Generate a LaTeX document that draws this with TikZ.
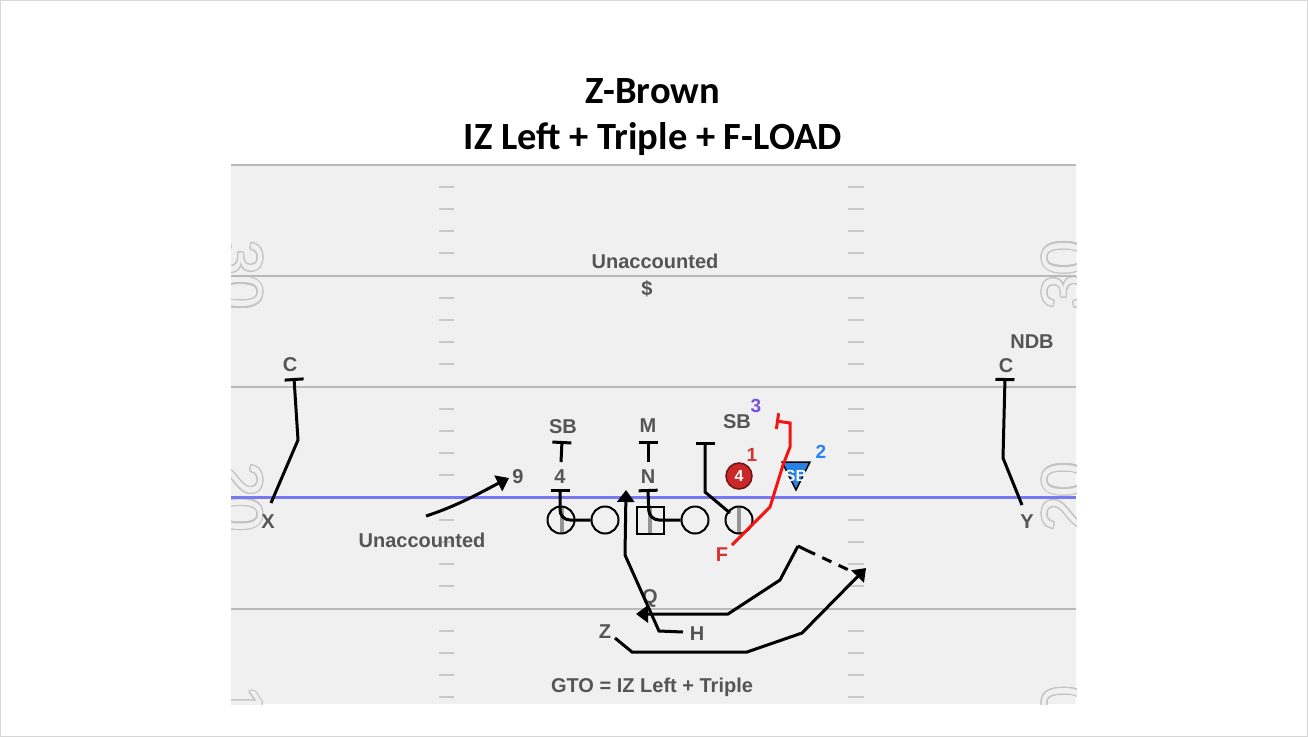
\documentclass[tikz,border=0pt]{standalone}
\usepackage{fontspec}
\setmainfont{Liberation Sans}
\newfontfamily\titlefont{Carlito}
\usepackage{contour}
\contourlength{1.2pt}
\contournumber{20}
\usetikzlibrary{arrows.meta}
\definecolor{fieldbg}{RGB}{240,240,240}
\definecolor{linegray}{RGB}{185,185,185}
\definecolor{hashgray}{RGB}{200,200,200}
\definecolor{numgray}{RGB}{195,195,195}
\definecolor{labelgray}{RGB}{85,85,85}
\definecolor{losblue}{RGB}{120,120,240}
\definecolor{routered}{RGB}{245,20,20}
\definecolor{fred}{RGB}{215,50,50}
\definecolor{dotred}{RGB}{200,40,40}
\definecolor{dotredborder}{RGB}{110,20,20}
\definecolor{sbblue}{RGB}{40,130,230}
\definecolor{numblue}{RGB}{40,130,240}
\definecolor{numpurple}{RGB}{120,80,220}
\definecolor{bordergray}{RGB}{215,215,215}
\definecolor{centergray}{RGB}{150,150,150}
\begin{document}
\begin{tikzpicture}[x=1pt,y=-1pt,
  lbl/.style={font=\fontsize{20}{22}\selectfont\bfseries, text=labelgray, inner sep=0pt},
  route/.style={line width=3pt, black, line join=miter},
  arr/.style={-{Triangle[length=12pt,width=17pt]}},
  blk/.style={line width=3pt, black, -{Bar[width=19pt]}},
  lineman/.style={circle, draw=black, line width=2pt, minimum size=27pt, inner sep=0pt},
  centerman/.style={rectangle, draw=black, line width=2pt, minimum size=27pt, inner sep=0pt},
  yardnum/.style={font=\fontsize{62}{62}\selectfont, text=fieldbg, inner sep=0pt},
  fieldline/.style={linegray, line width=2pt},
  hashmark/.style={hashgray, line width=2pt},
  titletext/.style={font=\titlefont\fontsize{38.5}{42}\selectfont\bfseries, anchor=base, inner sep=0pt},
]
\useasboundingbox (0,0) rectangle (1308,737);
\fill[white] (0,0) rectangle (1308,737);
\draw[bordergray, line width=1pt] (0.5,0.5) rectangle (1307.5,736.5);

% title
\node[titletext] (title1) at (653,103) {Z-Brown};
\node[titletext] (title2) at (653,149) {IZ Left + Triple + F-LOAD};

% field
\fill[fieldbg] (231,164) rectangle (1076,704);
\begin{scope}
  \clip (231,164) rectangle (1076,704);
  \node[yardnum, rotate=-90] (yl30) at (240,275) {\contour{numgray}{30}};
  \node[yardnum, rotate=-90] (yl20) at (240,497) {\contour{numgray}{20}};
  \node[yardnum, rotate=-90] (yl1) at (240,703) {\contour{numgray}{1}};
  \node[yardnum, rotate=90] (yr30) at (1065,275) {\contour{numgray}{30}};
  \node[yardnum, rotate=90] (yr20) at (1065,497) {\contour{numgray}{20}};
  \node[yardnum, rotate=90] (yr0) at (1065,703) {\contour{numgray}{0}};
\end{scope}
\foreach \yy in {164.5,275.5,386.5,608.5}
  \draw[fieldline] (231,\yy) -- (1076,\yy);
\foreach \k in {1,2,3,4,6,7,8,9,11,12,13,14,16,17,18,19,21,22,23,24} {
  \draw[hashmark] (439,164.5+22.2*\k) -- (454,164.5+22.2*\k);
  \draw[hashmark] (848,164.5+22.2*\k) -- (864,164.5+22.2*\k);
}
\draw[losblue, line width=3pt] (231,497.5) -- (1076,497.5);

% top labels
\node[lbl] (unacc1) at (655,261) {Unaccounted};
\node[lbl] (dollar) at (647,289) {\$};

% left side
\node[lbl] (cL) at (290,365) {C};
\node[lbl] (xL) at (268,522) {X};
\coordinate (xs) at (271,503);
\coordinate (xb) at (298,440);
\coordinate (ct) at (294,378);
\draw[blk] (xs) -- (xb) -- (ct);

% right side
\node[lbl] (ndb) at (1032,342) {NDB};
\node[lbl] (cR) at (1006,366) {C};
\node[lbl] (yR) at (1027,522) {Y};
\coordinate (ys) at (1022,505);
\coordinate (yb) at (1003,458);
\coordinate (crt) at (1005,378);
\draw[blk] (ys) -- (yb) -- (crt);

% unaccounted 9
\node[lbl] (unacc2) at (422,540) {Unaccounted};
\node[lbl] (nine) at (518,477) {9};
\coordinate (n9s) at (426,516);
\coordinate (n9e) at (509,478);
\draw[route, arr] (n9s) .. controls (460,505) and (485,490) .. (n9e);

% defenders
\node[lbl] (sbL) at (563,427) {SB};
\node[lbl] (mike) at (648,426) {M};
\node[lbl] (four) at (560,477) {4};
\node[lbl] (nose) at (648,477) {N};
\node[lbl] (sbR) at (737,422) {SB};
\node[font=\fontsize{19}{20}\selectfont\bfseries, text=numpurple, inner sep=0pt] (three) at (756,406) {3};
\node[font=\fontsize{19}{20}\selectfont\bfseries, text=fred, inner sep=0pt] (one) at (752,455) {1};
\node[font=\fontsize{19}{20}\selectfont\bfseries, text=numblue, inner sep=0pt] (two) at (821,452) {2};
\node[circle, fill=dotred, draw=dotredborder, line width=1.5pt, minimum size=26pt, inner sep=0pt,
      text=white, font=\fontsize{16}{16}\selectfont\bfseries] (dot4) at (739,476) {4};
\draw[fill=sbblue, draw=black, line width=1.5pt, line join=miter] (782,462) -- (810,462) -- (796,490) -- cycle;
\node[text=white, font=\fontsize{16}{16}\selectfont\bfseries, inner sep=0pt] (sbblue) at (796,476) {SB};

% offensive line
\fill[centergray] (560,506) rectangle (564,534);
\fill[centergray] (648,506) rectangle (652,534);
\fill[centergray] (737,506) rectangle (741,534);
\node[lineman] (ol1) at (561,520) {};
\node[lineman] (ol2) at (605,520) {};
\node[centerman] (ctr) at (650,520) {};
\node[lineman] (ol4) at (695,520) {};
\node[lineman] (ol5) at (739,520) {};

% blocks
\coordinate (sbLs) at (561,462);
\coordinate (sbLt) at (562,441);
\draw[blk] (sbLs) -- (sbLt);
\coordinate (ms) at (648,462);
\coordinate (mt) at (648,441);
\draw[blk] (ms) -- (mt);
\coordinate (k4a) at (560,520);
\coordinate (k4t) at (560,489);
\draw[blk, rounded corners=10pt] (ol2.west) -- (k4a) -- (k4t);
\coordinate (kna) at (649,520);
\coordinate (knt) at (648,489);
\draw[blk, rounded corners=10pt] (ol4.west) -- (kna) -- (knt);
\coordinate (k5a) at (730,513);
\coordinate (k5b) at (705,492);
\coordinate (k5t) at (705,442);
\draw[blk] (k5a) -- (k5b) -- (k5t);

% F (red)
\node[font=\fontsize{20}{22}\selectfont\bfseries, text=fred, inner sep=0pt] (fF) at (722,555) {F};
\coordinate (f0) at (732,545);
\coordinate (f1) at (770,507);
\coordinate (f2) at (783,465);
\coordinate (f3) at (790,447);
\coordinate (f4) at (790,423);
\coordinate (f5) at (776,421);
\draw[routered, line width=3pt, line join=miter, -{Bar[width=16pt]}] (f0) -- (f1) -- (f2) -- (f3) -- (f4) -- (f5);

% backs
\node[lbl] (qb) at (650,598) {Q};
\node[lbl] (hb) at (697,634) {H};
\node[lbl] (zb) at (605,632) {Z};

\coordinate (h0) at (683,632);
\coordinate (h1) at (659,631);
\coordinate (h2) at (625,555);
\coordinate (h3) at (626,490);
\draw[route, arr] (h0) -- (h1) -- (h2) -- (h3);

\coordinate (q0) at (798,546);
\coordinate (q1) at (780,580);
\coordinate (q2) at (728,614);
\coordinate (q3) at (636,614);
\coordinate (q4) at (806,550);
\coordinate (q5) at (853,572);
\draw[route, arr] (q0) -- (q1) -- (q2) -- (q3);
\draw[route] (q0) -- (q4);
\draw[route, dash pattern=on 10pt off 8pt] (q4) -- (q5);

\coordinate (z0) at (615,638);
\coordinate (z1) at (632,652);
\coordinate (z2) at (747,652);
\coordinate (z3) at (802,633);
\coordinate (z4) at (866,568);
\draw[route, arr] (z0) -- (z1) -- (z2) -- (z3) -- (z4);

% bottom label
\node[lbl] (gto) at (652,687) {GTO = IZ Left + Triple};
\end{tikzpicture}
\end{document}
